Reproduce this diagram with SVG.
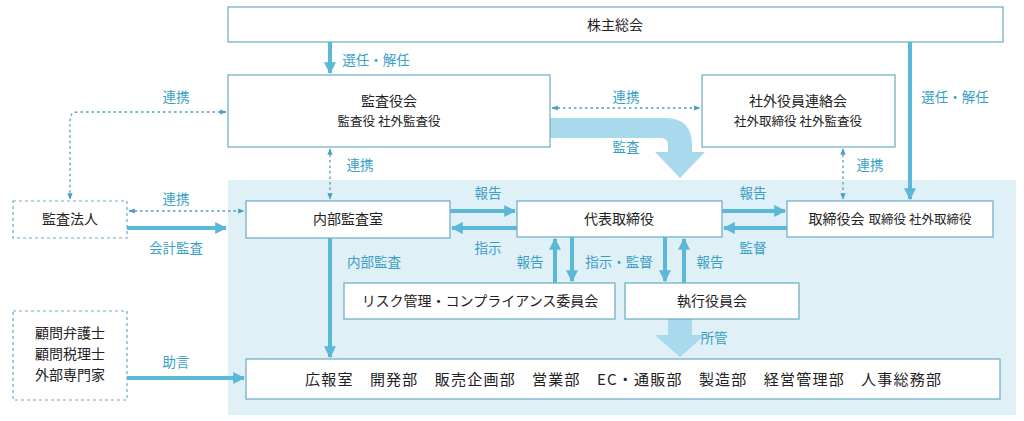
<svg xmlns="http://www.w3.org/2000/svg" width="1024" height="421" viewBox="0 0 1024 421">
<defs>
<marker id="a" viewBox="0 0 10 10" refX="9" refY="5" markerWidth="3" markerHeight="3" orient="auto-start-reverse"><path d="M0,0L10,5L0,10z" fill="#5bb8d6"/></marker>
<marker id="d" viewBox="0 0 10 10" refX="9" refY="5" markerWidth="5" markerHeight="5" orient="auto-start-reverse"><path d="M0,1L10,5L0,9z" fill="#4a9fc0"/></marker>
<style>
.b{fill:#fff;stroke:#6aaac4;stroke-width:1.2}
.db{fill:#fff;stroke:#6aaac4;stroke-width:1.2;stroke-dasharray:3 3}
text{font-family:"Noto Sans CJK JP","Noto Sans",sans-serif;font-size:14px;fill:#222;text-anchor:middle}
.s{font-size:12.5px}
.l{fill:#3a9fc4;font-size:13.5px}
.t{stroke:#5bb8d6;stroke-width:4;fill:none;marker-end:url(#a)}
.o{stroke:#4a9fc0;stroke-width:1.3;fill:none;stroke-dasharray:2.5 3;marker-end:url(#d);marker-start:url(#d)}
</style>
</defs>
<rect width="1024" height="421" fill="#fff"/>
<rect x="228" y="180" width="788" height="235" fill="#e0f0f7"/>
<g id="bigarrows" fill="#a9d9ec">
<path d="M550,118H665Q692,118 692,145V152H705L680,178L655,152H668V145Q668,138 661,138H550Z"/>
<path d="M668,319H692V335H705L680,357L655,335H668Z"/>
</g>
<g id="n1"><rect class="b" x="228" y="7" width="775" height="35"/><text x="615" y="30">株主総会</text></g>
<g id="n2"><rect class="b" x="228" y="75" width="322" height="72"/><text x="389" y="106">監査役会</text><text class="s" x="389" y="126">監査役 社外監査役</text></g>
<g id="n3"><rect class="b" x="702" y="75" width="193" height="72"/><text x="798" y="106">社外役員連絡会</text><text class="s" x="798" y="126">社外取締役 社外監査役</text></g>
<g id="n4"><rect class="db" x="13" y="201" width="114" height="37"/><text x="70" y="224">監査法人</text></g>
<g id="n5"><rect class="b" x="246" y="201" width="204" height="37"/><text x="348" y="224">内部監査室</text></g>
<g id="n6"><rect class="b" x="517" y="201" width="205" height="36"/><text x="619" y="224">代表取締役</text></g>
<g id="n7"><rect class="b" x="787" y="201" width="206" height="36"/><text x="890" y="224"><tspan>取締役会</tspan><tspan dx="4" style="font-size:12.5px">取締役 社外取締役</tspan></text></g>
<g id="n8"><rect class="b" x="344" y="283" width="271" height="36"/><text x="480" y="306">リスク管理・コンプライアンス委員会</text></g>
<g id="n9"><rect class="b" x="625" y="283" width="174" height="36"/><text x="712" y="306">執行役員会</text></g>
<g id="n10"><rect class="b" x="246" y="359" width="754" height="40"/><text x="623" y="385" style="font-size:15px" textLength="636" lengthAdjust="spacing" xml:space="preserve">広報室　開発部　販売企画部　営業部　EC・通販部　製造部　経営管理部　人事総務部</text></g>
<g id="n11"><rect class="db" x="13" y="311" width="114" height="89"/><text x="70" y="338">顧問弁護士</text><text x="70" y="359">顧問税理士</text><text x="70" y="380">外部専門家</text></g>
<g id="connectors">
<path class="t" d="M330,42V73"/>
<path class="t" d="M910,42V199"/>
<path class="t" d="M450,211H515"/>
<path class="t" d="M517,228H452"/>
<path class="t" d="M722,211H785"/>
<path class="t" d="M787,228H724"/>
<path class="t" d="M555,283V239"/>
<path class="t" d="M572,237V281"/>
<path class="t" d="M665,237V281"/>
<path class="t" d="M684,283V239"/>
<path class="t" d="M330,238V357"/>
<path class="t" d="M127,228H226"/>
<path class="t" d="M127,378H244"/>
<path class="o" d="M226,112H78Q70,112 70,120V199"/>
<path class="o" d="M129,211H244"/>
<path class="o" d="M330,149V199"/>
<path class="o" d="M552,108H700"/>
<path class="o" d="M843,149V199"/>
</g>
<g id="labels">
<text class="l" x="376" y="65">選任・解任</text>
<text class="l" x="955" y="102">選任・解任</text>
<text class="l" x="176" y="102">連携</text>
<text class="l" x="176" y="204">連携</text>
<text class="l" x="360" y="170">連携</text>
<text class="l" x="626" y="102">連携</text>
<text class="l" x="870" y="170">連携</text>
<text class="l" x="626" y="152">監査</text>
<text class="l" x="488" y="198">報告</text>
<text class="l" x="488" y="253">指示</text>
<text class="l" x="753" y="198">報告</text>
<text class="l" x="753" y="253">監督</text>
<text class="l" x="530" y="267">報告</text>
<text class="l" x="619" y="267">指示・監督</text>
<text class="l" x="710" y="267">報告</text>
<text class="l" x="374" y="267">内部監査</text>
<text class="l" x="176" y="253">会計監査</text>
<text class="l" x="176" y="367">助言</text>
<text class="l" x="714" y="343">所管</text>
</g>
</svg>
